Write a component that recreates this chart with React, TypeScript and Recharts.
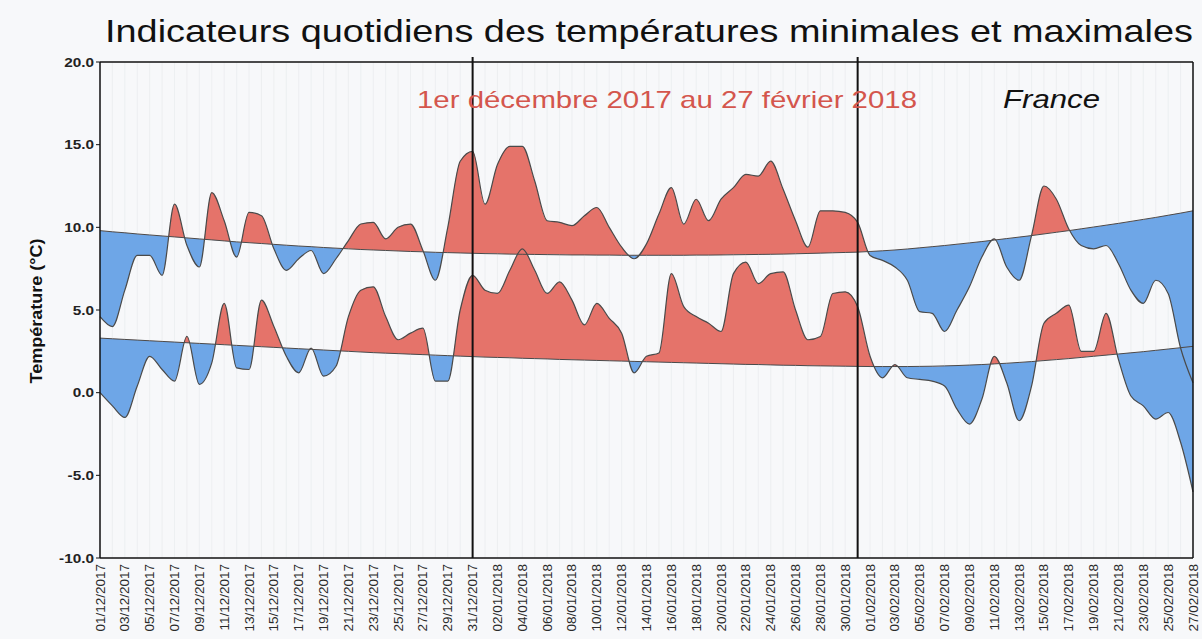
import React, { useEffect, useState } from 'react';
import {
  ComposedChart,
  Area,
  Line,
  XAxis,
  YAxis,
  CartesianGrid,
  ReferenceLine,
} from 'recharts';

// x axis labels, one every two days
const TICK_LABELS = [
  '01/12/2017', '03/12/2017', '05/12/2017', '07/12/2017', '09/12/2017', '11/12/2017',
  '13/12/2017', '15/12/2017', '17/12/2017', '19/12/2017', '21/12/2017', '23/12/2017',
  '25/12/2017', '27/12/2017', '29/12/2017', '31/12/2017', '02/01/2018', '04/01/2018',
  '06/01/2018', '08/01/2018', '10/01/2018', '12/01/2018', '14/01/2018', '16/01/2018',
  '18/01/2018', '20/01/2018', '22/01/2018', '24/01/2018', '26/01/2018', '28/01/2018',
  '30/01/2018', '01/02/2018', '03/02/2018', '05/02/2018', '07/02/2018', '09/02/2018',
  '11/02/2018', '13/02/2018', '15/02/2018', '17/02/2018', '19/02/2018', '21/02/2018',
  '23/02/2018', '25/02/2018', '27/02/2018',
];

// indicateur des températures maximales (°C), du 01/12/2017 au 27/02/2018
const T_MAX = [
  4.6, 4.0, 6.2, 8.3, 8.3, 7.1, 11.4, 8.9, 7.6, 12.1,
  10.4, 8.2, 10.9, 10.7, 8.7, 7.4, 8.1, 8.6, 7.2, 8.1,
  9.2, 10.2, 10.3, 9.3, 10.0, 10.2, 8.6, 6.8, 10.0, 14.0,
  14.6, 11.4, 13.8, 14.9, 14.9, 12.8, 10.4, 10.3, 10.1, 10.7,
  11.2, 10.0, 8.8, 8.1, 9.0, 10.8, 12.4, 10.2, 11.7, 10.4,
  11.7, 12.4, 13.2, 13.1, 14.0, 12.3, 10.4, 8.8, 11.0, 11.0,
  10.9, 10.3, 8.3, 8.0, 7.6, 6.8, 4.9, 4.8, 3.7, 5.0,
  6.4, 8.2, 9.3, 7.6, 6.8, 9.5, 12.5, 11.7, 9.9, 8.9,
  8.7, 8.9, 7.8, 6.2, 5.4, 6.8, 6.0, 2.7, 0.6,
];

// indicateur des températures minimales (°C)
const T_MIN = [
  0.0, -0.8, -1.5, 0.4, 2.2, 1.4, 0.7, 3.4, 0.5, 1.8,
  5.4, 1.5, 1.4, 5.6, 4.0, 2.2, 1.2, 2.7, 1.0, 1.6,
  4.6, 6.2, 6.4, 4.6, 3.2, 3.6, 3.9, 0.7, 0.7, 5.0,
  7.1, 6.2, 6.0, 7.4, 8.7, 7.4, 6.0, 6.7, 5.6, 4.1,
  5.4, 4.5, 3.6, 1.2, 2.2, 2.4, 7.2, 5.2, 4.6, 4.2,
  3.7, 7.2, 7.9, 6.6, 7.2, 7.3, 5.0, 3.2, 3.4, 6.0,
  6.1, 5.2, 2.2, 0.9, 1.7, 0.9, 0.8, 0.7, 0.4, -1.0,
  -1.9, -0.4, 2.2, 0.6, -1.7, 0.4, 4.2, 4.8, 5.3, 2.5,
  2.5, 4.8, 2.0, -0.2, -0.8, -1.6, -1.2, -3.0, -6.0,
];

// normales des maximales (°C)
const NORMAL_MAX = [
  9.8, 9.73, 9.67, 9.6, 9.54, 9.48, 9.42, 9.36, 9.3, 9.24,
  9.18, 9.12, 9.07, 9.02, 8.97, 8.92, 8.87, 8.83, 8.78, 8.74,
  8.7, 8.66, 8.63, 8.6, 8.57, 8.54, 8.52, 8.49, 8.47, 8.45,
  8.43, 8.41, 8.4, 8.38, 8.37, 8.36, 8.35, 8.34, 8.33, 8.33,
  8.32, 8.32, 8.31, 8.31, 8.31, 8.31, 8.31, 8.31, 8.32, 8.32,
  8.33, 8.34, 8.35, 8.36, 8.37, 8.38, 8.4, 8.42, 8.44, 8.46,
  8.48, 8.5, 8.54, 8.58, 8.63, 8.69, 8.76, 8.83, 8.9, 8.98,
  9.06, 9.14, 9.23, 9.32, 9.41, 9.5, 9.6, 9.7, 9.8, 9.91,
  10.02, 10.13, 10.24, 10.36, 10.48, 10.6, 10.73, 10.86, 11.0,
];

// normales des minimales (°C)
const NORMAL_MIN = [
  3.3, 3.26, 3.22, 3.18, 3.14, 3.1, 3.06, 3.02, 2.98, 2.94,
  2.9, 2.86, 2.82, 2.78, 2.74, 2.7, 2.66, 2.62, 2.58, 2.54,
  2.5, 2.46, 2.42, 2.39, 2.36, 2.33, 2.3, 2.27, 2.24, 2.21,
  2.18, 2.15, 2.13, 2.11, 2.08, 2.06, 2.04, 2.01, 1.99, 1.97,
  1.95, 1.93, 1.91, 1.89, 1.87, 1.85, 1.83, 1.81, 1.79, 1.77,
  1.75, 1.73, 1.71, 1.7, 1.68, 1.66, 1.65, 1.63, 1.62, 1.61,
  1.6, 1.59, 1.58, 1.58, 1.58, 1.58, 1.59, 1.6, 1.62, 1.64,
  1.67, 1.7, 1.74, 1.78, 1.83, 1.88, 1.94, 2.0, 2.06, 2.13,
  2.2, 2.27, 2.34, 2.41, 2.48, 2.56, 2.64, 2.72, 2.8,
];

// 31/12 et 31/01
const MONTH_ENDS = [30, 61];
const Y_TICKS = [-10, -5, 0, 5, 10, 15, 20];

const WARM = '#e5736a';
const COLD = '#6ea6e7';
const INK = '#4a4a4a';
const FONT = "'Liberation Sans', Arial, sans-serif";

const data = T_MAX.map((tMax, day) => ({
  day,
  tMax,
  tMin: T_MIN[day],
  nMax: NORMAL_MAX[day],
  nMin: NORMAL_MIN[day],
}));

// regions above / below each normal curve, used as clip paths for the coloured bands
const CLIPS = ['maxUp', 'maxDown', 'minUp', 'minDown'] as const;

const DateTick = ({ x, y, payload }: any) => {
  const day = payload.value as number;
  if (day % 2 !== 0) return <g />;
  return (
    <text
      transform={`translate(${x},${y}) rotate(-90)`}
      textAnchor="end"
      dominantBaseline="central"
      fontSize={13.5}
      fill="#2a2a2a"
      fontFamily={FONT}
    >
      {TICK_LABELS[day / 2]}
    </text>
  );
};

const TempTick = ({ x, y, payload }: any) => (
  <g transform={`translate(${x},${y}) scale(1.18,1)`}>
    <text textAnchor="end" dy="0.35em" fontSize={13} fontWeight="bold" fill="#222" fontFamily={FONT}>
      {(payload.value as number).toFixed(1)}
    </text>
  </g>
);

export default function App() {
  const [clipD, setClipD] = useState<Record<string, string>>({});

  // recharts draws the normal regions; copy their paths into clipPaths
  useEffect(() => {
    let frame = 0;
    let tries = 0;
    const grab = () => {
      const found: Record<string, string> = {};
      CLIPS.forEach((k) => {
        const d = document.querySelector(`.src-${k} .recharts-area-area`)?.getAttribute('d');
        if (d) found[k] = d;
      });
      if (Object.keys(found).length === CLIPS.length) setClipD(found);
      else if (tries++ < 120) frame = requestAnimationFrame(grab);
    };
    grab();
    return () => cancelAnimationFrame(frame);
  }, []);

  return (
    <div
      style={{
        position: 'absolute',
        left: 0,
        top: 0,
        width: 1202,
        height: 639,
        background: '#f7f8fa',
        fontFamily: FONT,
      }}
    >
      <style>{`
        .band-maxWarm .recharts-area-area { clip-path: url(#clip-maxUp); }
        .band-maxCold .recharts-area-area { clip-path: url(#clip-maxDown); }
        .band-minWarm .recharts-area-area { clip-path: url(#clip-minUp); }
        .band-minCold .recharts-area-area { clip-path: url(#clip-minDown); }
      `}</style>

      <ComposedChart
        width={1202}
        height={639}
        data={data}
        margin={{ top: 62, right: 9, bottom: 0, left: 0 }}
      >
        <CartesianGrid horizontal={false} stroke="#eaecef" strokeWidth={0.8} />
        <XAxis
          type="number"
          dataKey="day"
          domain={[0, 88]}
          ticks={data.map((d) => d.day)}
          interval={0}
          height={81}
          tick={(p: any) => <DateTick {...p} />}
          tickLine={false}
          tickSize={4}
          tickMargin={2}
          axisLine={{ stroke: '#111', strokeWidth: 1.5 }}
        />
        <YAxis
          type="number"
          domain={[-10, 20]}
          ticks={Y_TICKS}
          interval={0}
          width={100}
          tick={(p: any) => <TempTick {...p} />}
          tickSize={4}
          tickMargin={2}
          tickLine={{ stroke: '#111' }}
          axisLine={{ stroke: '#111', strokeWidth: 1.5 }}
          allowDataOverflow
        />

        {/* invisible regions that only provide clip geometry */}
        <Area className="src-maxUp" type="monotone" dataKey={(d: any) => [d.nMax, 20]} fill="none" stroke="none" isAnimationActive={false} />
        <Area className="src-maxDown" type="monotone" dataKey={(d: any) => [-10, d.nMax]} fill="none" stroke="none" isAnimationActive={false} />
        <Area className="src-minUp" type="monotone" dataKey={(d: any) => [d.nMin, 20]} fill="none" stroke="none" isAnimationActive={false} />
        <Area className="src-minDown" type="monotone" dataKey={(d: any) => [-10, d.nMin]} fill="none" stroke="none" isAnimationActive={false} />

        {/* bands between indicator and normal, red above / blue below */}
        <Area className="band-maxCold" type="monotone" dataKey={(d: any) => [d.nMax, d.tMax]} fill={COLD} fillOpacity={1} stroke="none" isAnimationActive={false} />
        <Area className="band-maxWarm" type="monotone" dataKey={(d: any) => [d.nMax, d.tMax]} fill={WARM} fillOpacity={1} stroke="none" isAnimationActive={false} />
        <Area className="band-minCold" type="monotone" dataKey={(d: any) => [d.nMin, d.tMin]} fill={COLD} fillOpacity={1} stroke="none" isAnimationActive={false} />
        <Area className="band-minWarm" type="monotone" dataKey={(d: any) => [d.nMin, d.tMin]} fill={WARM} fillOpacity={1} stroke="none" isAnimationActive={false} />

        <Line type="monotone" dataKey="nMax" stroke={INK} strokeWidth={1} dot={false} isAnimationActive={false} />
        <Line type="monotone" dataKey="nMin" stroke={INK} strokeWidth={1} dot={false} isAnimationActive={false} />
        <Line type="monotone" dataKey="tMax" stroke={INK} strokeWidth={1.2} dot={false} isAnimationActive={false} />
        <Line type="monotone" dataKey="tMin" stroke={INK} strokeWidth={1.2} dot={false} isAnimationActive={false} />

        <ReferenceLine y={20} stroke="#111" strokeWidth={1.5} />
        <ReferenceLine x={88} stroke="#111" strokeWidth={1.5} />
        {MONTH_ENDS.map((d) => (
          <ReferenceLine
            key={d}
            segment={[{ x: d, y: -10 }, { x: d, y: 20.3 }]}
            ifOverflow="visible"
            stroke="#111"
            strokeWidth={2}
          />
        ))}
      </ComposedChart>

      <svg
        width={1202}
        height={639}
        style={{ position: 'absolute', left: 0, top: 0, pointerEvents: 'none' }}
      >
        <defs>
          {CLIPS.map((k) =>
            clipD[k] ? (
              <clipPath key={k} id={`clip-${k}`}>
                <path d={clipD[k]} />
              </clipPath>
            ) : null,
          )}
        </defs>
        <text x={105} y={42} fontSize={31.5} fill="#111" fontFamily={FONT} textLength={1088} lengthAdjust="spacingAndGlyphs">
          Indicateurs quotidiens des températures minimales et maximales
        </text>
        <text x={417} y={108} fontSize={24} fill="#d4564d" fontFamily={FONT} textLength={500} lengthAdjust="spacingAndGlyphs">
          1er décembre 2017 au 27 février 2018
        </text>
        <text x={1003} y={108} fontSize={25} fontStyle="italic" fill="#111" fontFamily={FONT} textLength={97} lengthAdjust="spacingAndGlyphs">
          France
        </text>
        <text
          transform="translate(42,311) rotate(-90)"
          textAnchor="middle"
          fontSize={16.5}
          fontWeight="bold"
          fill="#111"
          fontFamily={FONT}
          textLength={145}
          lengthAdjust="spacingAndGlyphs"
        >
          Température (°C)
        </text>
      </svg>
    </div>
  );
}
